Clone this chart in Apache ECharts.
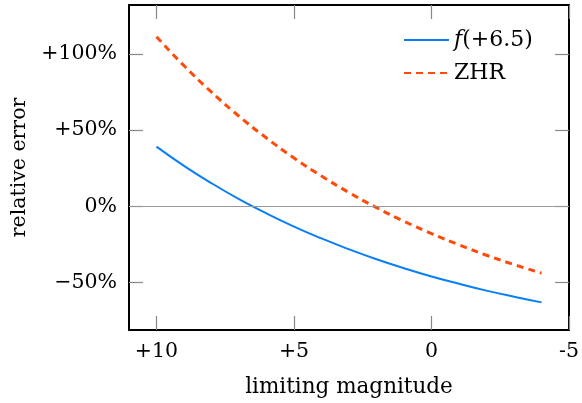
<!DOCTYPE html>
<html>
<head>
<meta charset="utf-8">
<script src="https://cdn.jsdelivr.net/npm/echarts@6/dist/echarts.min.js"></script>
<style>
  html, body { margin: 0; padding: 0; background: #fff; }
  #chart { width: 582px; height: 403px; }
</style>
</head>
<body>
<div id="chart"></div>
<script>
// limiting magnitude (x) and relative error in % (y)
var magnitudes = [10, 9, 8, 7, 6, 5, 4, 3, 2, 1, 0, -1, -2, -3, -4];
var errF65 = [39.2, 26.6, 15.2, 4.8, -4.6, -13.2, -21.0, -28.1, -34.6, -40.5, -45.9, -50.7, -55.2, -59.2, -62.9];
var errZHR = [111.2, 92.2, 74.9, 59.1, 44.8, 31.7, 19.9, 9.1, -0.8, -9.7, -17.8, -25.2, -32.0, -38.1, -43.7];
var xTicks = [10, 5, 0, -5];
var xTickLabels = ['+10', '+5', '0', '-5'];
var yTicks = [100, 50, 0, -50];
var yTickLabels = ['+100%', '+50%', '0%', '\u221250%'];

var font = '"DejaVu Serif", "Liberation Serif", serif';
var fontSize = 20.5;
var tickGray = '#888';

function pairs(xs, ys) {
    var out = [];
    for (var i = 0; i < xs.length; i++) out.push([xs[i], ys[i]]);
    return out;
}

function xLabel(v) {
    var i = xTicks.indexOf(v);
    return i >= 0 ? xTickLabels[i] : '';
}
function yLabel(v) {
    var i = yTicks.indexOf(v);
    return i >= 0 ? yTickLabels[i] : '';
}

function xAxisAt(pos, withLabels) {
    var ax = {
        type: 'value',
        inverse: true,
        min: -5,
        max: 11,
        position: pos,
        axisLine: { show: true, onZero: false, lineStyle: { color: '#000', width: 2 } },
        splitLine: { show: false },
        axisTick: { show: true, inside: true, length: 14, customValues: xTicks.slice(), lineStyle: { color: tickGray, width: 1.2 } },
        axisLabel: { show: false }
    };
    if (withLabels) {
        ax.name = 'limiting magnitude';
        ax.nameLocation = 'middle';
        ax.nameGap = 46;
        ax.nameTextStyle = { fontFamily: font, fontSize: 21.5, color: '#000' };
        ax.axisLabel = {
            show: true,
            customValues: xTicks.slice(),
            formatter: xLabel,
            margin: 11,
            fontFamily: font,
            fontSize: fontSize,
            color: '#000'
        };
    }
    return ax;
}

function yAxisAt(pos, withLabels) {
    var ax = {
        type: 'value',
        min: -81,
        max: 132,
        position: pos,
        axisLine: { show: true, onZero: false, lineStyle: { color: '#000', width: 2 } },
        splitLine: { show: false },
        axisTick: { show: true, inside: true, length: 14, customValues: yTicks.slice(), lineStyle: { color: tickGray, width: 1.2 } },
        axisLabel: { show: false }
    };
    if (withLabels) {
        ax.name = 'relative error';
        ax.nameLocation = 'middle';
        ax.nameGap = 99;
        ax.nameRotate = 90;
        ax.nameTextStyle = { fontFamily: font, fontSize: fontSize, color: '#000' };
        ax.axisLabel = {
            show: true,
            customValues: yTicks.slice(),
            formatter: yLabel,
            margin: 12,
            fontFamily: font,
            fontSize: fontSize,
            color: '#000'
        };
    }
    return ax;
}

var chart = echarts.init(document.getElementById('chart'));

var option = {
    animation: false,
    backgroundColor: '#fff',
    grid: { left: 129, right: 11, top: 5, bottom: 71 },
    legend: {
        orient: 'vertical',
        left: 398,
        top: 24,
        itemWidth: 45,
        itemHeight: 14,
        itemGap: 11,
        itemStyle: { opacity: 0 },
        textStyle: {
            fontFamily: font,
            fontSize: 22,
            color: '#000',
            rich: {
                it: { fontFamily: font, fontStyle: 'italic', fontSize: 22, color: '#000' }
            }
        },
        formatter: function (name) {
            if (name === 'f(+6.5)') return '{it|f}(+6.5)';
            return name;
        },
        data: ['f(+6.5)', 'ZHR']
    },
    xAxis: [xAxisAt('bottom', true), xAxisAt('top', false)],
    yAxis: [yAxisAt('left', true), yAxisAt('right', false)],
    series: [
        {
            name: 'f(+6.5)',
            type: 'line',
            smooth: true,
            symbol: 'none',
            color: '#0a7ff5',
            lineStyle: { color: '#0a7ff5', width: 2 },
            data: pairs(magnitudes, errF65),
            markLine: {
                silent: true,
                symbol: 'none',
                label: { show: false },
                lineStyle: { color: '#999', width: 1, type: 'solid' },
                data: [{ yAxis: 0 }]
            },
            z: 3
        },
        {
            name: 'ZHR',
            type: 'line',
            smooth: true,
            symbol: 'none',
            color: '#ff4a0a',
            lineStyle: { color: '#ff4a0a', width: 3, type: [7, 5] },
            data: pairs(magnitudes, errZHR),
            z: 4
        }
    ]
};

chart.setOption(option);
</script>
</body>
</html>
